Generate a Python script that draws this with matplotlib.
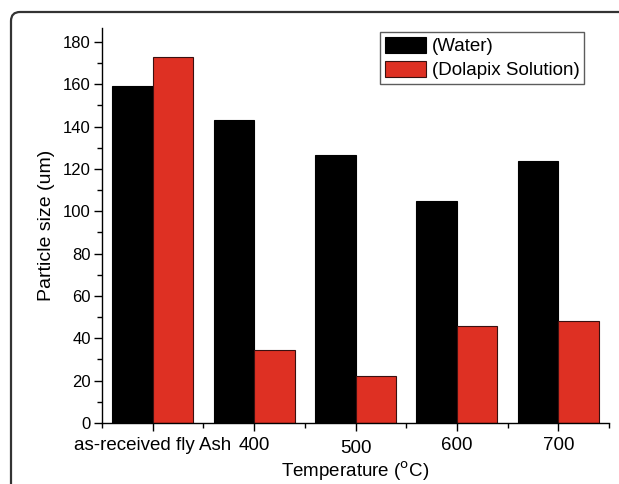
import numpy as np
import matplotlib
matplotlib.use("Agg")
import matplotlib.pyplot as plt
from matplotlib.patches import FancyBboxPatch
from matplotlib.transforms import IdentityTransform, ScaledTranslation

plt.rcParams['font.family'] = ['Liberation Sans', 'DejaVu Sans']

# data
categories = ["as-received fly Ash", "400", "500", "600", "700"]
water = [159, 143, 126.5, 105, 124]
dolapix = [173, 34.5, 22, 46, 48]

fig = plt.figure(figsize=(6.19, 4.84), dpi=100)
ax = fig.add_axes([102/619, 1 - 423/484, 507/619, 395/484])

x = np.arange(len(categories))
w = 0.4
ax.bar(x - w/2, water, width=w, color='black', edgecolor='black', linewidth=0.8, label='(Water)')
ax.bar(x + w/2, dolapix, width=w, color='#DE3023', edgecolor='#3a1010', linewidth=0.8,
       label='(Dolapix Solution)')

ax.set_xlim(-0.5, 4.47)
ax.set_ylim(0, 186.6)
ax.set_yticks(np.arange(0, 181, 20))
ax.set_yticks(np.arange(10, 181, 20), minor=True)
ax.set_xticks(x)
ax.set_xticklabels(categories)
ax.set_xticks(np.arange(-0.5, 4.6, 1.0), minor=True)

for s in ['top', 'right']:
    ax.spines[s].set_visible(False)
for s in ['left', 'bottom']:
    ax.spines[s].set_linewidth(1.0)

ax.tick_params(axis='both', which='major', direction='out', length=6, width=1.0)
ax.tick_params(axis='both', which='minor', direction='out', length=3.5, width=1.0)
ax.tick_params(axis='y', which='major', labelsize=12, pad=2)
ax.tick_params(axis='x', which='major', labelsize=13.5, pad=4)

# the "500" label sits a little lower in the original
lab = ax.get_xticklabels()[2]
lab.set_transform(lab.get_transform() + ScaledTranslation(0, -3/100, fig.dpi_scale_trans))

ax.set_ylabel('Particle size (um)', fontsize=14, labelpad=6)
ax.set_xlabel('Temperature ($^{\\mathrm{o}}$C)', fontsize=13.5, labelpad=2)

leg = ax.legend(loc='upper right', bbox_to_anchor=(0.951, 0.99), borderaxespad=0,
                fancybox=False, frameon=True, fontsize=13.5, handlelength=2.2,
                handleheight=0.95, handletextpad=0.3, labelspacing=0.3, borderpad=0.25)
leg.get_frame().set_edgecolor('#333333')
leg.get_frame().set_linewidth(1.0)

# rounded outer frame, clipped by the image edges
frame = FancyBboxPatch((11, -40), 800, 512, boxstyle="round,pad=0,rounding_size=9",
                       transform=IdentityTransform(), facecolor='none',
                       edgecolor='#333333', linewidth=1.6)
fig.patches.append(frame)

fig.savefig('out.png', dpi=100)
